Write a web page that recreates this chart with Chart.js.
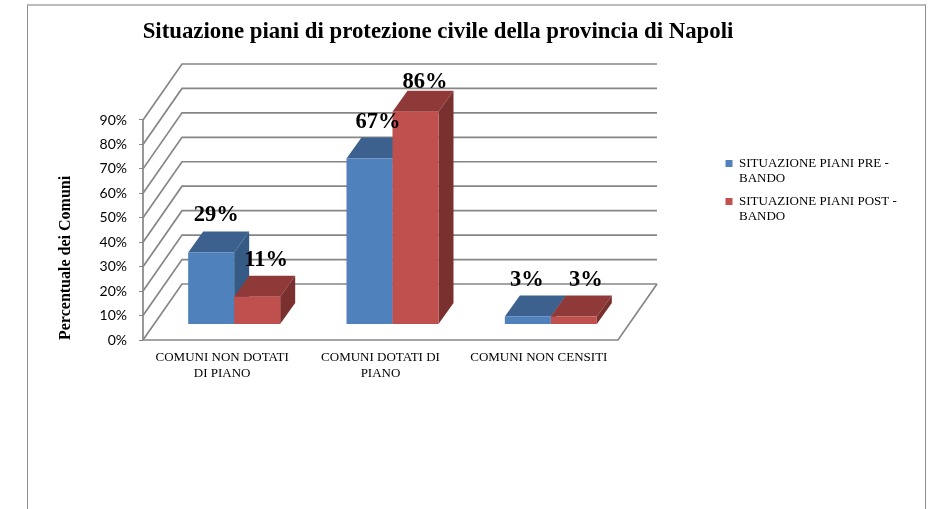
<!DOCTYPE html>
<html><head><meta charset="utf-8">
<style>
html,body{margin:0;padding:0;background:#fff;width:929px;height:509px;overflow:hidden}
#frame{position:absolute;left:27px;top:4px;width:899px;height:520px;border:1px solid #8f8f8f;border-top:2px solid #bcbcbc;border-left-width:1.5px;border-right-width:1.5px;box-sizing:border-box}
#c{position:absolute;left:0;top:0;filter:blur(0.35px)}
</style>
<script src="https://cdn.jsdelivr.net/npm/chart.js@4/dist/chart.umd.min.js"></script>
</head><body>
<div id="frame"></div>
<canvas id="c" width="929" height="509"></canvas>
<script>
const categories = [["COMUNI NON DOTATI","DI PIANO"],["COMUNI DOTATI DI","PIANO"],"COMUNI NON CENSITI"];
const seriesNames = ["SITUAZIONE PIANI PRE -|BANDO","SITUAZIONE PIANI POST -|BANDO"];
const prePiani = [29,67,3];
const postPiani = [11,86,3];
const yTicksMax = 90;

const SERIF = '"Liberation Serif", serif';
const GRID = '#868686';
const DEPTH = {dx:39, dy:-56};      // wall depth
const BAR_DEPTH = {dx:15, dy:-21};  // bar depth
const BAR_SHIFT = 12;               // bars stand in the middle of the floor
const faces = [{top:'#3c618f',side:'#355a84'},{top:'#8f3a38',side:'#7a302e'}];
const labelNudge = [[[5,-37],[8.5,-36],[-1,-36]],[[9,-37],[9.5,-29],[12,-36]]];

const walls3d = {
  id:'walls3d',
  afterLayout(chart){
    const t = chart.titleBlock; t.left = 0; t.right = 876;
    chart.legend.top = 0; chart.legend.bottom = 382;
  },
  beforeDatasetsDraw(chart){
    const {ctx, scales:{x,y}} = chart;
    const l = chart.chartArea.left, r = chart.chartArea.right;
    ctx.save();
    ctx.strokeStyle = GRID; ctx.lineWidth = 1.7;
    y.ticks.forEach(t=>{
      const py = y.getPixelForValue(t.value);
      ctx.beginPath();
      ctx.moveTo(l,py);
      ctx.lineTo(l+DEPTH.dx,py+DEPTH.dy);
      ctx.lineTo(r+DEPTH.dx,py+DEPTH.dy);
      ctx.stroke();
    });
    const p0 = y.getPixelForValue(0), pm = y.getPixelForValue(yTicksMax);
    ctx.beginPath();
    ctx.moveTo(l,pm); ctx.lineTo(l,p0); ctx.lineTo(r,p0);
    ctx.lineTo(r+DEPTH.dx,p0+DEPTH.dy);
    ctx.stroke();
    ctx.restore();

    // series are painted in legend order: blue first, red over it
    [0,1].forEach(ds=>{
      const meta = chart.getDatasetMeta(ds), c = faces[ds];
      ctx.save();
      ctx.translate(BAR_SHIFT,0);
      meta.data.forEach(b=>{
        const w = b.width/2, L = b.x-w, R = b.x+w, T = b.y, B = b.base, dx = BAR_DEPTH.dx, dy = BAR_DEPTH.dy;
        ctx.fillStyle = c.top;
        ctx.beginPath();ctx.moveTo(L,T);ctx.lineTo(L+dx,T+dy);ctx.lineTo(R+dx,T+dy);ctx.lineTo(R,T);ctx.closePath();ctx.fill();
        ctx.fillStyle = c.side;
        ctx.beginPath();ctx.moveTo(R,T);ctx.lineTo(R+dx,T+dy);ctx.lineTo(R+dx,B+dy);ctx.lineTo(R,B);ctx.closePath();ctx.fill();
      });
      meta.controller.draw();
      ctx.restore();
    });

    ctx.save();
    ctx.font = 'bold 22.5px '+SERIF;
    ctx.fillStyle = '#000';
    ctx.textAlign = 'center'; ctx.textBaseline = 'middle';
    [0,1].forEach(ds=>{
      chart.getDatasetMeta(ds).data.forEach((b,i)=>{
        const n = labelNudge[ds][i];
        ctx.fillText(chart.data.datasets[ds].data[i]+'%', b.x+BAR_SHIFT+n[0], b.y+n[1]);
      });
    });
    ctx.restore();
    return false;
  }
};

new Chart(document.getElementById('c'),{
  type:'bar',
  data:{labels:categories,datasets:[
    {label:seriesNames[0],data:prePiani,backgroundColor:'#4f81bd',yAxisID:'yBars'},
    {label:seriesNames[1],data:postPiani,backgroundColor:'#c0504d',yAxisID:'yBars'}
  ]},
  plugins:[walls3d],
  options:{
    responsive:false,animation:false,
    layout:{padding:{left:0,right:22.2,top:0,bottom:0}},
    datasets:{bar:{categoryPercentage:0.581,barPercentage:1}},
    plugins:{
      tooltip:{enabled:false},
      title:{display:true,text:'Situazione piani di protezione civile della provincia di Napoli',
        color:'#000',font:{family:SERIF,size:22.8,weight:'bold',lineHeight:1.2},padding:{top:18.2,bottom:18.2}},
      legend:{position:'right',maxWidth:220,
        labels:{boxWidth:7,boxHeight:7,padding:8,color:'#000',
          font:{family:SERIF,size:13,lineHeight:15/13},
          generateLabels(chart){
            return chart.data.datasets.map((d,i)=>({text:d.label.split('|'),fillStyle:d.backgroundColor,strokeStyle:d.backgroundColor,lineWidth:0,datasetIndex:i}));
          }}}
    },
    scales:{
      x:{type:'category',grid:{display:false},border:{display:false},
        afterFit(s){s.height=169;},
        ticks:{color:'#000',autoSkip:false,maxRotation:0,minRotation:0,padding:2,
          font:{family:SERIF,size:13,lineHeight:16/13}}},
      y:{position:'left',min:0,max:113,
        afterFit(s){s.width=143;},
        afterBuildTicks(s){s.ticks=[];for(let v=0;v<=yTicksMax;v+=10)s.ticks.push({value:v});},
        grid:{drawOnChartArea:false,drawTicks:true,tickLength:4,color:GRID},border:{display:false},
        title:{display:true,text:'Percentuale dei Comuni',align:'start',color:'#000',
          font:{family:SERIF,size:16,weight:'bold',lineHeight:1.2},padding:{top:56,bottom:0}},
        ticks:{color:'#000',padding:12,font:{family:'Lato',size:14},callback:v=>v+'%'}},
      yBars:{position:'right',min:-6.486,max:105.4,display:true,
        afterFit(s){s.width=99.5;},
        grid:{display:false},border:{display:false},ticks:{display:false}}
    }
  }
});
</script>
</body></html>
